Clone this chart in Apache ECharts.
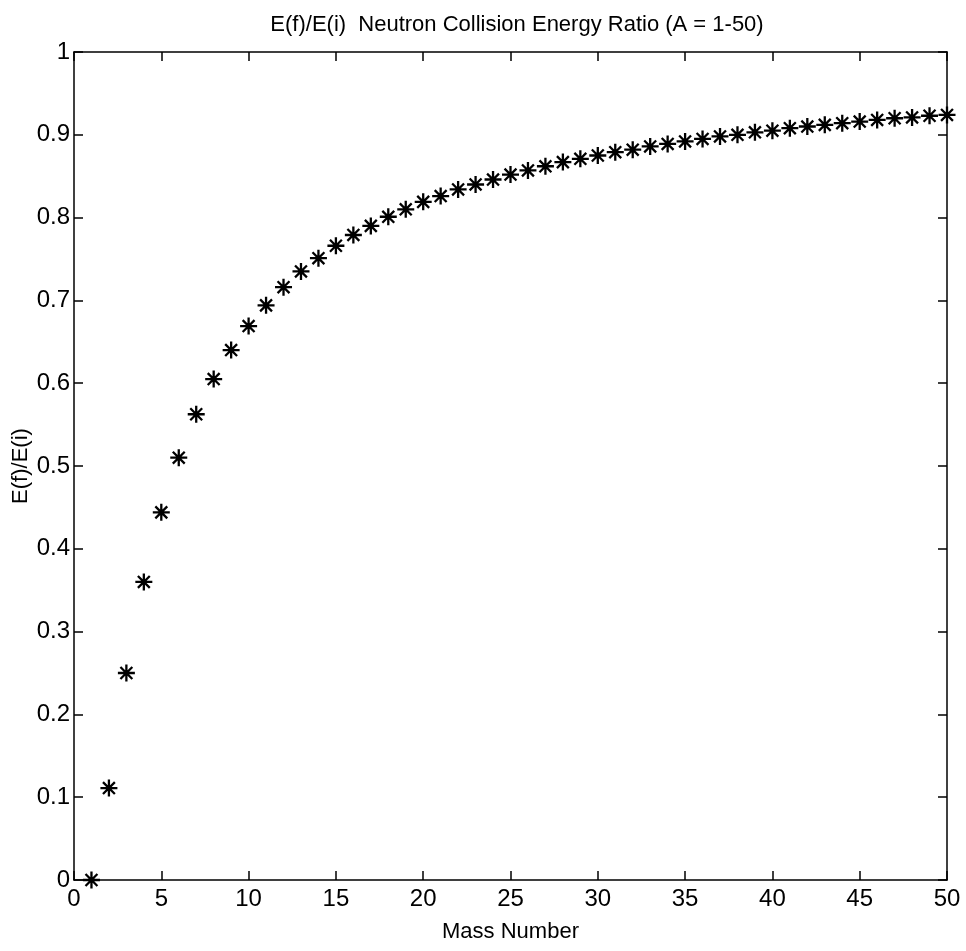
<!DOCTYPE html>
<html>
<head>
<meta charset="utf-8">
<script src="https://cdn.jsdelivr.net/npm/echarts@6/dist/echarts.min.js"></script>
<style>html,body{margin:0;padding:0;background:#fff}#c{width:966px;height:951px}</style>
</head>
<body>
<div id="c"></div>
<script>
var massNumbers = [1,2,3,4,5,6,7,8,9,10,11,12,13,14,15,16,17,18,19,20,21,22,23,24,25,26,27,28,29,30,31,32,33,34,35,36,37,38,39,40,41,42,43,44,45,46,47,48,49,50];
var energyRatio = [0,0.111,0.25,0.36,0.444,0.51,0.5625,0.605,0.64,0.669,0.694,0.716,0.735,0.751,0.766,0.779,0.790,0.801,0.810,0.819,0.826,0.834,0.840,0.846,0.852,0.857,0.862,0.867,0.871,0.875,0.879,0.882,0.886,0.889,0.892,0.895,0.898,0.900,0.903,0.905,0.908,0.910,0.912,0.914,0.916,0.918,0.920,0.921,0.923,0.924];
var titleText = 'E(f)/E(i)  Neutron Collision Energy Ratio (A = 1-50)';
var xName = 'Mass Number';
var yName = 'E(f)/E(i)';

var font = 'Liberation Sans, Arial, Helvetica, sans-serif';
var pts = massNumbers.map(function(a, i){ return [a, energyRatio[i]]; });
var chart = echarts.init(document.getElementById('c'), null, {renderer:'canvas'});
var axisLineS = {show:true, onZero:false, lineStyle:{color:'#000', width:1.5}};
var tickS = {show:true, inside:true, length:9, lineStyle:{color:'#000', width:1.5}};
chart.setOption({
  backgroundColor:'#fff',
  animation:false,
  title:{text:titleText, left:512, textAlign:'center', top:9, textStyle:{fontFamily:font, fontSize:22, fontWeight:'normal', color:'#000'}},
  grid:{left:74, right:19, top:52, bottom:71, containLabel:false, outerBoundsMode:'none'},
  xAxis:[{
    type:'value', min:0, max:50, interval:5, position:'bottom',
    name:xName, nameLocation:'middle', nameGap:41, nameMoveOverlap:false,
    nameTextStyle:{fontFamily:font, fontSize:22, color:'#000'},
    axisLine:axisLineS, axisTick:tickS, splitLine:{show:false},
    axisLabel:{fontFamily:font, fontSize:24, color:'#000', margin:7}
  },{
    type:'value', min:0, max:50, interval:5, position:'top',
    axisLine:axisLineS, axisTick:tickS, splitLine:{show:false}, axisLabel:{show:false}
  }],
  yAxis:[{
    type:'value', min:0, max:1, interval:0.1, position:'left',
    name:yName, nameLocation:'middle', nameGap:42, nameMoveOverlap:false,
    nameTextStyle:{fontFamily:font, fontSize:22, color:'#000'},
    axisLine:axisLineS, axisTick:tickS, splitLine:{show:false},
    axisLabel:{fontFamily:font, fontSize:24, color:'#000', margin:4,
      formatter:function(v){ return String(Math.round(v*10)/10); }}
  },{
    type:'value', min:0, max:1, interval:0.1, position:'right',
    axisLine:axisLineS, axisTick:tickS, splitLine:{show:false}, axisLabel:{show:false}
  }],
  series:[{
    type:'scatter', data:pts, xAxisIndex:0, yAxisIndex:0,
    symbol:'path://M0,-10L0,10M-10,0L10,0M-7,-7L7,7M-7,7L7,-7',
    symbolSize:17, clip:false,
    itemStyle:{color:'none', borderColor:'#000', borderWidth:2.3, opacity:1}
  }]
});
</script>
</body>
</html>
